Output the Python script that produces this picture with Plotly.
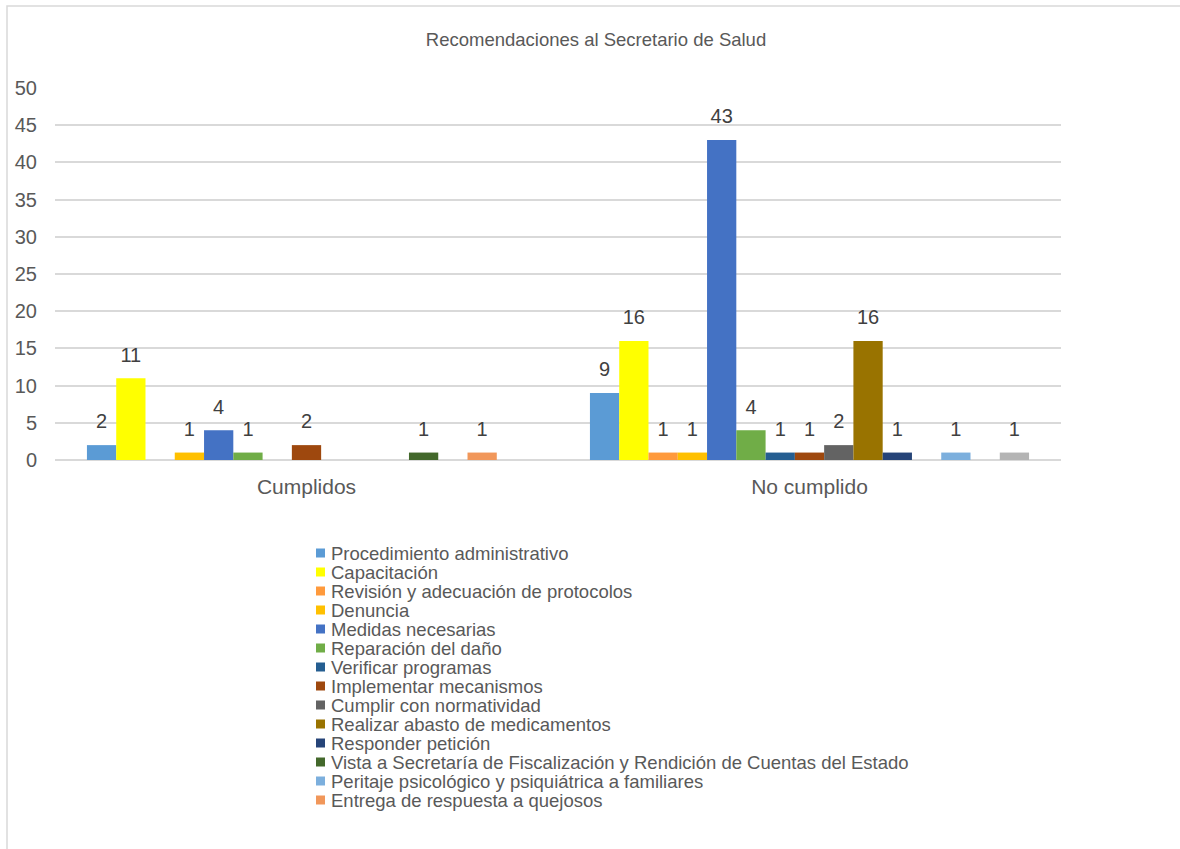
import plotly.graph_objects as go

categories = ["Cumplidos", "No cumplido"]

series_names = [
    "Procedimiento administrativo",
    "Capacitación",
    "Revisión y adecuación de protocolos",
    "Denuncia",
    "Medidas necesarias",
    "Reparación del daño",
    "Verificar programas",
    "Implementar mecanismos",
    "Cumplir con normatividad",
    "Realizar abasto de medicamentos",
    "Responder petición",
    "Vista a Secretaría de Fiscalización y Rendición de Cuentas del Estado",
    "Peritaje psicológico y psiquiátrica a familiares",
    "Entrega de respuesta a quejosos",
    "Otras",
]

cumplidos = [2, 11, 0, 1, 4, 1, 0, 2, 0, 0, 0, 1, 0, 1, 0]
no_cumplido = [9, 16, 1, 1, 43, 4, 1, 1, 2, 16, 1, 0, 1, 0, 1]

colors = [
    "#5B9BD5", "#FFFF00", "#FF9A3C", "#FFC000", "#4472C4",
    "#70AD47", "#255E91", "#9E480E", "#636363", "#997300",
    "#264478", "#43682B", "#7CAFDD", "#F1975A", "#B4B4B4",
]

legend_count = 14  # the last series is not shown in the legend of the original

y_ticks = [0, 5, 10, 15, 20, 25, 30, 35, 40, 45, 50]

FONT = "Liberation Sans, Arial, sans-serif"
TEXT_GRAY = "#595959"
LABEL_GRAY = "#404040"

fig = go.Figure()

for i, name in enumerate(series_names):
    vals = [cumplidos[i], no_cumplido[i]]
    fig.add_trace(go.Bar(
        x=categories, y=vals, name=name,
        marker=dict(color=colors[i], line=dict(width=0)),
        showlegend=False, hoverinfo="x+y+name",
    ))

for i, name in enumerate(series_names):
    vals = [cumplidos[i], no_cumplido[i]]
    fig.add_trace(go.Scatter(
        x=categories, y=[v if v > 0 else None for v in vals],
        text=[str(v) if v > 0 else "" for v in vals],
        mode="markers+text", textposition="top center",
        textfont=dict(family=FONT, size=20, color=LABEL_GRAY),
        marker=dict(size=17, opacity=0, color=colors[i]),
        showlegend=False, hoverinfo="skip", name=name,
        cliponaxis=False,
    ))

W, H = 1180, 849
ml, mr, mt, mb = 55, 119, 88, 389
pw, ph = W - ml - mr, H - mt - mb

def px_x(x):
    return (x - ml) / pw

def px_y(y):
    return (H - mb - y) / ph

annotations = []
shapes = []
for i in range(legend_count):
    yc = 553 + 19 * i
    annotations.append(dict(
        text=series_names[i], xref="paper", yref="paper",
        x=px_x(329), y=px_y(yc), xanchor="left", yanchor="middle",
        showarrow=False, font=dict(family=FONT, size=18.5, color=TEXT_GRAY),
    ))
    shapes.append(dict(
        type="rect", xref="paper", yref="paper",
        x0=px_x(316), x1=px_x(325), y0=px_y(yc - 4.5), y1=px_y(yc + 4.5),
        fillcolor=colors[i], line=dict(width=0),
    ))

# chart border
shapes.append(dict(
    type="rect", xref="paper", yref="paper",
    x0=px_x(7), x1=px_x(1300), y0=px_y(1000), y1=px_y(6),
    line=dict(color="#D9D9D9", width=1.5), fillcolor="rgba(0,0,0,0)", layer="below",
))

fig.update_layout(
    width=W, height=H,
    margin=dict(l=ml, r=mr, t=mt, b=mb, pad=0),
    paper_bgcolor="white", plot_bgcolor="white",
    barmode="group", bargap=0.127, bargroupgap=0,
    scattermode="group", scattergap=0.127,
    font=dict(family=FONT, color=TEXT_GRAY),
    title=dict(
        text="Recomendaciones al Secretario de Salud",
        x=596 / W, xref="container", xanchor="center",
        y=1 - 40 / H, yref="container", yanchor="middle",
        font=dict(family=FONT, size=18.5, color=TEXT_GRAY),
    ),
    showlegend=False,
    annotations=annotations,
    shapes=shapes,
)

fig.update_yaxes(
    range=[0, 50], tickvals=y_ticks, ticktext=[str(t) for t in y_ticks],
    showgrid=True, gridcolor="#D9D9D9", gridwidth=1.5,
    zeroline=True, zerolinecolor="#D9D9D9", zerolinewidth=1.5,
    showline=False, ticks="", ticklabelstandoff=17,
    tickfont=dict(family=FONT, size=20, color=TEXT_GRAY),
)
fig.update_xaxes(
    showgrid=False, showline=False, ticks="", ticklabelstandoff=12,
    tickfont=dict(family=FONT, size=21, color=TEXT_GRAY),
)

fig.write_html(
    "out.html",
    config={"displayModeBar": False},
    post_script="document.body.style.margin='0';document.body.style.overflow='hidden';",
)
